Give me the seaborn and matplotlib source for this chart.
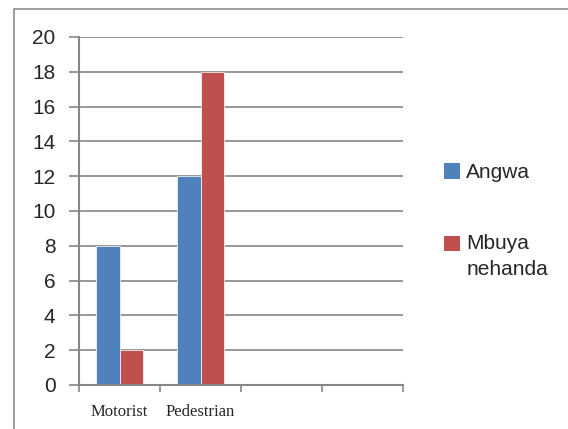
import matplotlib
matplotlib.use("Agg")
import matplotlib.pyplot as plt
import pandas as pd
import seaborn as sns
from matplotlib.legend_handler import HandlerPatch
from matplotlib.patches import Patch, Rectangle

# data
categories = ["Motorist", "Pedestrian"]
series_names = ["Angwa", "Mbuya\nnehanda"]
angwa = [8, 12]
mbuya_nehanda = [2, 18]
y_ticks = list(range(0, 21, 2))
n_slots = 4  # the category axis has two empty slots on the right

colors = ["#4F81BD", "#C0504D"]
grid_gray = "#868686"

df = pd.DataFrame({
    "category": categories * 2,
    "series": [series_names[0]] * len(categories) + [series_names[1]] * len(categories),
    "value": angwa + mbuya_nehanda,
})

sns.set_theme(style="white")
plt.rcParams["font.family"] = ["Liberation Sans", "DejaVu Sans"]

fig = plt.figure(figsize=(5.68, 4.29), dpi=100)
ax = fig.add_axes([79 / 568, 1 - 385 / 429, 324 / 568, 348 / 429])

sns.barplot(
    data=df, x="category", y="value", hue="series", order=categories,
    hue_order=series_names, palette=colors, width=0.57, gap=0,
    saturation=1, legend=False, edgecolor="white", linewidth=0.5, ax=ax,
)

ax.set_xlim(-0.5, n_slots - 0.5)
ax.set_ylim(0, 20)
ax.set_yticks(y_ticks)
ax.yaxis.grid(True, color=grid_gray, linewidth=1.2)
ax.set_axisbelow(True)
ax.set_xlabel("")
ax.set_ylabel("")

for side in ["top", "right"]:
    ax.spines[side].set_visible(False)
for side in ["left", "bottom"]:
    ax.spines[side].set_color(grid_gray)
    ax.spines[side].set_linewidth(1.5)

# category labels sit between the boundary tick marks
ax.set_xticks(range(len(categories)))
ax.set_xticklabels(categories, fontsize=12, family="Liberation Serif")
ax.set_xticks([i - 0.5 for i in range(n_slots + 1)], minor=True)
ax.tick_params(axis="x", which="major", length=0, pad=14)
ax.tick_params(axis="x", which="minor", length=5, width=1.2, color=grid_gray,
               bottom=True, direction="out")
ax.tick_params(axis="y", which="major", length=7, width=1.2, color=grid_gray,
               left=True, direction="out", labelsize=15, pad=10)


class FirstLineHandler(HandlerPatch):
    """Legend key lifted so it lines up with the first line of a wrapped label."""

    def __init__(self, lift):
        super().__init__()
        self.lift = lift

    def create_artists(self, legend, orig_handle, xdescent, ydescent, width, height,
                       fontsize, trans):
        p = Rectangle((-xdescent, -ydescent + self.lift), width, height,
                      facecolor=orig_handle.get_facecolor(), edgecolor="none",
                      transform=trans)
        return [p]


handles = [Patch(facecolor=c, edgecolor="none") for c in colors]
leg = fig.legend(
    handles, series_names, loc="upper left", bbox_to_anchor=(436 / 568, 1 - 155 / 429),
    frameon=False, fontsize=15, handlelength=0.75, handleheight=0.75,
    handletextpad=0.3, labelspacing=2.5, borderaxespad=0,
    handler_map={handles[0]: FirstLineHandler(0), handles[1]: FirstLineHandler(9.5)},
)
for t in leg.get_texts():
    t.set_linespacing(1.45)

# thin chart-area border (only left and top edges show in the reference)
fig.patches.append(Rectangle((14 / 568, -0.1), 1.2, 1 - 9 / 429 + 0.1,
                             transform=fig.transFigure, fill=False,
                             edgecolor="#8c8c8c", linewidth=1.2))

fig.savefig("out.png", dpi=100)
